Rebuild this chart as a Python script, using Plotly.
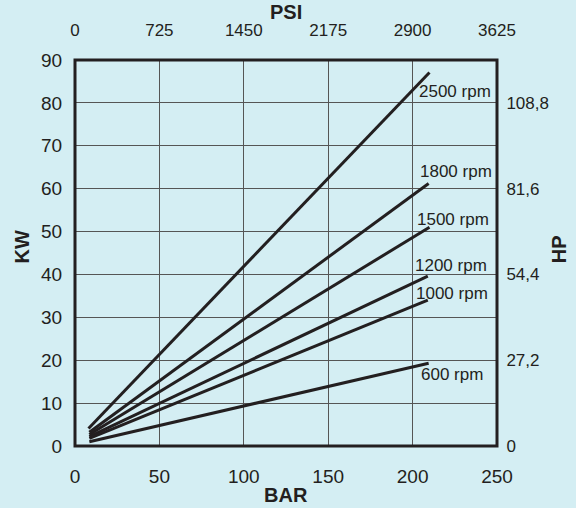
import plotly.graph_objects as go

# Data
rpm_labels = ["2500 rpm", "1800 rpm", "1500 rpm", "1200 rpm", "1000 rpm", "600 rpm"]
bar_start = [8, 8.5, 8.5, 8.5, 8.5, 8.5]
bar_end = [210, 209.5, 210, 209, 209, 209.5]
kw_start = [4.1, 3.2, 2.7, 2.2, 1.8, 1.0]
kw_end = [87.1, 61.2, 51.0, 39.6, 34.0, 19.3]
label_x = [225.4, 225.7, 223.8, 222.7, 223.2, 223.2]
label_y = [82.6, 63.9, 52.9, 42.2, 35.6, 16.6]

bar_ticks = [0, 50, 100, 150, 200, 250]
kw_ticks = [0, 10, 20, 30, 40, 50, 60, 70, 80, 90]
psi_ticks = [0, 725, 1450, 2175, 2900, 3625]
hp_ticks = [0, 27.2, 54.4, 81.6, 108.8]
hp_ticktext = ["0", "27,2", "54,4", "81,6", "108,8"]

BG = "#d4eef3"
INK = "#231f20"
FONT = "Liberation Sans, Arial, sans-serif"

fig = go.Figure()
for i, name in enumerate(rpm_labels):
    fig.add_trace(go.Scatter(
        x=[bar_start[i], bar_end[i]], y=[kw_start[i], kw_end[i]],
        mode="lines", line=dict(color=INK, width=3), name=name,
        showlegend=False, hoverinfo="skip"))
    fig.add_annotation(x=label_x[i], y=label_y[i], text=name, showarrow=False,
                       xref="x", yref="y", xanchor="center", yanchor="middle",
                       font=dict(family=FONT, size=17, color=INK))

# Invisible traces to activate secondary axes
fig.add_trace(go.Scatter(x=[0], y=[0], xaxis="x2", yaxis="y", mode="markers",
                         marker=dict(opacity=0), showlegend=False, hoverinfo="skip"))
fig.add_trace(go.Scatter(x=[0], y=[0], xaxis="x", yaxis="y2", mode="markers",
                         marker=dict(opacity=0), showlegend=False, hoverinfo="skip"))

fig.update_layout(
    width=576, height=508,
    margin=dict(l=75, r=79, t=60, b=62),
    paper_bgcolor=BG, plot_bgcolor=BG,
    font=dict(family=FONT, color=INK),
    xaxis=dict(range=[0, 250], tickvals=bar_ticks, showgrid=True,
               gridcolor="#555555", gridwidth=1, zeroline=False,
               ticks="outside", ticklen=13, tickcolor="rgba(0,0,0,0)",
               tickfont=dict(size=19, color=INK), fixedrange=True),
    xaxis2=dict(range=[0, 3625], tickvals=psi_ticks, overlaying="x", side="top",
                showgrid=False, zeroline=False, ticks="outside", ticklen=16,
                tickcolor="rgba(0,0,0,0)", tickfont=dict(size=17, color=INK)),
    yaxis=dict(range=[0, 90], tickvals=kw_ticks, showgrid=True,
               gridcolor="#555555", gridwidth=1, zeroline=False,
               ticks="outside", ticklen=8, tickcolor="rgba(0,0,0,0)",
               tickfont=dict(size=19, color=INK)),
    yaxis2=dict(range=[0, 122.4], tickvals=hp_ticks, ticktext=hp_ticktext,
                overlaying="y", side="right", showgrid=False, zeroline=False,
                ticks="outside", ticklen=5, tickcolor="rgba(0,0,0,0)",
                tickfont=dict(size=17, color=INK)),
    shapes=[dict(type="rect", xref="paper", yref="paper", x0=0, y0=0, x1=1, y1=1,
                 line=dict(color=INK, width=3), layer="above")],
)

title_font = dict(family=FONT, size=20, color=INK)
fig.add_annotation(text="<b>PSI</b>", xref="paper", yref="paper", x=0.5, y=1.125,
                   showarrow=False, font=title_font, xanchor="center", yanchor="middle")
fig.add_annotation(text="<b>BAR</b>", xref="paper", yref="paper", x=0.5, y=-0.128,
                   showarrow=False, font=title_font, xanchor="center", yanchor="middle")
fig.add_annotation(text="<b>KW</b>", xref="paper", yref="paper", x=-0.125, y=0.515,
                   showarrow=False, font=title_font, textangle=-90,
                   xanchor="center", yanchor="middle")
fig.add_annotation(text="<b>HP</b>", xref="paper", yref="paper", x=1.147, y=0.51,
                   showarrow=False, font=title_font, textangle=-90,
                   xanchor="center", yanchor="middle")

fig.write_html(
    "out.html",
    config={"displayModeBar": False},
    post_script="document.body.style.margin='0';document.body.style.background='" + BG + "';",
)
